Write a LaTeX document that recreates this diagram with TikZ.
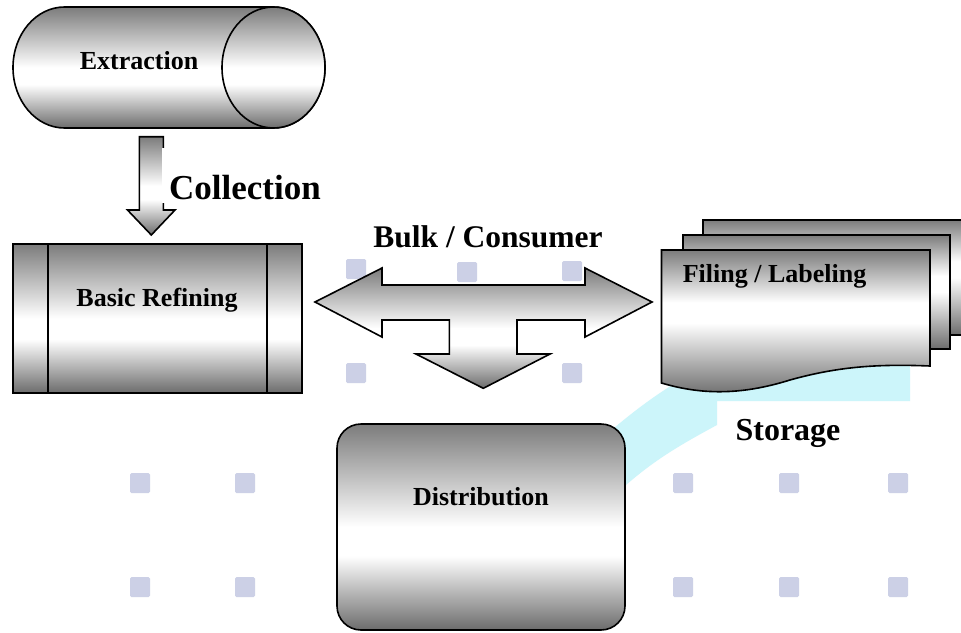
\documentclass[tikz,border=0pt]{standalone}
\usepackage{fontspec}
\setmainfont{Liberation Serif}
\definecolor{mtop}{RGB}{124,124,124}
\definecolor{mbot}{RGB}{108,108,108}
\definecolor{sq}{RGB}{204,208,230}
\definecolor{cy}{RGB}{204,245,250}
\pgfdeclareverticalshading{metal}{100bp}{color(0bp)=(mbot); color(25bp)=(mbot); color(43bp)=(white); color(50bp)=(white); color(75bp)=(mtop); color(100bp)=(mtop)}
\pgfdeclareverticalshading{docmetal}{100bp}{color(0bp)=(mbot); color(25bp)=(mbot); color(50bp)=(white); color(57bp)=(white); color(75bp)=(mtop); color(100bp)=(mtop)}
\begin{document}
\begin{tikzpicture}[x=1pt,y=-1pt, line width=1.6pt, line join=miter,
  shp/.style={draw=black, shading=metal},
  docshp/.style={draw=black, shading=docmetal},
  lbl/.style={font=\bfseries\fontsize{26}{30}\selectfont, anchor=base, inner sep=0pt},
  biglbl/.style={font=\bfseries\fontsize{31.5}{36}\selectfont, anchor=base, inner sep=0pt},
  bgsq/.style={fill=sq, rounded corners=1.5pt}]
\useasboundingbox (0,0) rectangle (961,632);
\clip (0,0) rectangle (961,632);
\fill[white] (0,0) rectangle (961,632);
% background decoration
\fill[cy] (600,440) .. controls (640,405) and (680,375) .. (740,350) -- (910,350) -- (910,401) -- (717,401) -- (717,425) .. controls (680,445) and (650,462) .. (615,495) -- cycle;
\foreach \x/\y in {346/259, 457/262, 562/261, 346/363, 562/363,
                   130/473, 235/473, 673/473, 779/473, 888/473,
                   130/577, 235/577, 673/577, 779/577, 888/577}
  \fill[bgsq] (\x,\y) rectangle ++(20,20);
% Extraction cylinder
\path[shp] (64.5,7) -- (273.5,7) arc[start angle=-90, end angle=90, x radius=51.5, y radius=60.5]
  -- (64.5,128) arc[start angle=90, end angle=270, x radius=51.5, y radius=60.5] -- cycle;
\path[shp] (273.5,67.5) ellipse[x radius=51.5, y radius=60.5];
\node[lbl] (ext) at (139,69) {Extraction};
% Collection arrow
\path[shp] (139.3,136.7) -- (163.3,136.7) -- (163.3,210) -- (175,210) -- (151.3,235) -- (127.5,210) -- (139.3,210) -- cycle;
\fill[white] (162.3,148) rectangle (166,203);
\node[biglbl, font=\bfseries\fontsize{35}{40}\selectfont] (col) at (245,199) {Collection};
% Basic Refining
\path[shp] (13,244) rectangle (302,393);
\draw (48,244) -- (48,393);
\draw (267,244) -- (267,393);
\node[lbl] (ref) at (157,306) {Basic Refining};
% Bulk / Consumer arrow
\path[shp] (315,302) -- (382,268) -- (382,285) -- (585,285) -- (585,268) -- (652,302)
  -- (585,337) -- (585,320) -- (517,320) -- (517,354) -- (550,354) -- (483.3,388.3)
  -- (416,354) -- (449.3,354) -- (449.3,320) -- (382,320) -- (382,337) -- cycle;
\node[biglbl] (bulk) at (488,247) {Bulk / Consumer};
% Filing / Labeling documents
\path[docshp] (703,220) rectangle (990,335);
\path[docshp] (683,235) rectangle (950,349);
\path[docshp] (661.5,250) -- (930,250) -- (930,366) .. controls (880,364) and (840,366) .. (790,380)
  .. controls (745,394) and (705,396) .. (661.5,383) -- cycle;
\node[lbl, anchor=base west] (fil) at (682,282) {Filing / Labeling};
\node[biglbl, font=\bfseries\fontsize{32}{36}\selectfont] (sto) at (788,440) {Storage};
% Distribution
\path[shp, rounded corners=24pt] (337,424) rectangle (625,630);
\node[lbl] (dis) at (481,505) {Distribution};
\end{tikzpicture}
\end{document}
